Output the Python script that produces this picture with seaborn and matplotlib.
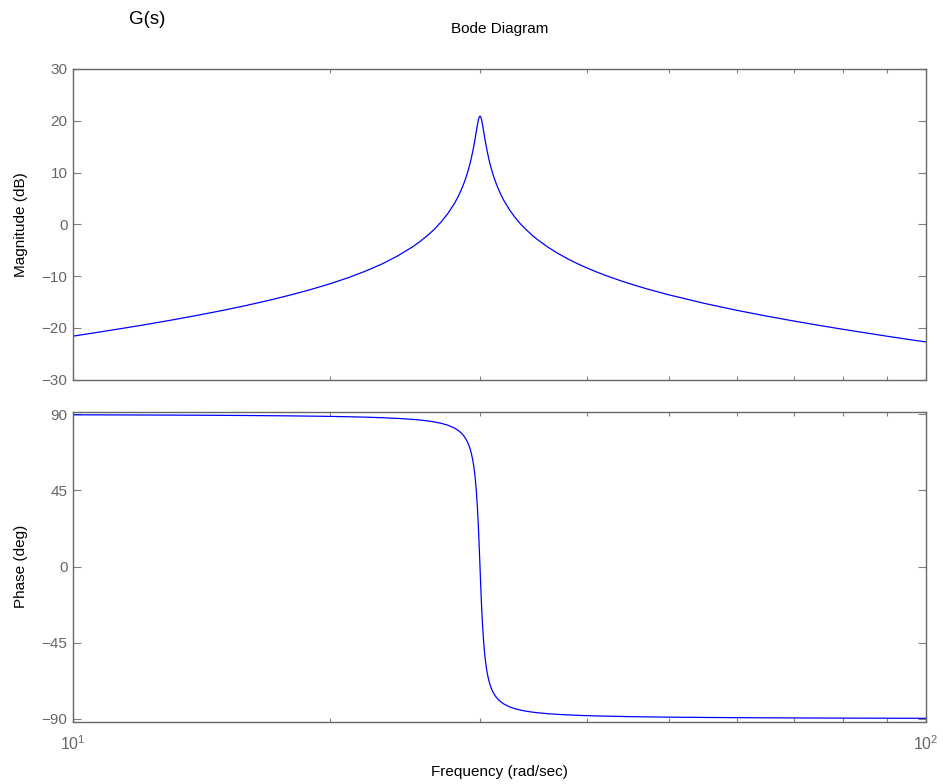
import matplotlib
matplotlib.use("Agg")
import matplotlib.pyplot as plt
import matplotlib.ticker as mticker
import seaborn as sns
import numpy as np
import pandas as pd

# Frequencies (rad/sec)
freq = [10, 11, 12, 13, 14, 15, 16, 17, 18, 19, 20, 21, 22, 23, 24, 25, 25.5,
        26, 26.5, 27, 27.5, 28, 28.25, 28.5, 28.6, 28.7, 28.8, 28.9, 29.0,
        29.1, 29.2, 29.3, 29.4, 29.5, 29.6, 29.7, 29.8, 29.85, 29.9, 29.95,
        30.0, 30.05, 30.1, 30.15, 30.2, 30.3, 30.4, 30.5, 30.6, 30.7, 30.8,
        30.9, 31.0, 31.1, 31.2, 31.3, 31.4, 31.5, 31.75, 32, 32.5, 33, 33.5,
        34, 34.5, 35, 36, 37, 38, 39, 40, 41, 42, 44, 45, 47, 50, 55, 60, 65,
        70, 75, 80, 85, 90, 95, 100]
# Magnitude (dB)
mag_db = [-21.59, -20.53, -19.52, -18.53, -17.56, -16.60, -15.63, -14.64,
          -13.63, -12.58, -11.49, -10.33, -9.06, -7.69, -6.14, -4.36, -3.35,
          -2.23, -1.02, 0.44, 2.05, 4.03, 5.20, 6.54, 7.13, 7.76, 8.44, 9.16,
          9.94, 10.79, 11.71, 12.73, 13.85, 15.08, 16.44, 17.88, 19.30, 19.94,
          20.44, 20.79, 20.90, 20.79, 20.45, 19.95, 19.32, 17.92, 16.51, 15.19,
          13.98, 12.90, 11.91, 11.02, 10.21, 9.46, 8.76, 8.12, 7.52, 6.96,
          5.69, 4.60, 2.77, 1.26, -0.01, -1.06, -2.03, -2.89, -4.35, -5.59,
          -6.64, -7.57, -8.39, -9.12, -9.80, -10.97, -11.49, -12.43, -13.63,
          -15.27, -16.60, -17.71, -18.67, -19.52, -20.28, -20.96, -21.60,
          -22.18, -22.71]
# Phase (deg)
phase_deg = [89.57, 89.51, 89.45, 89.39, 89.32, 89.24, 89.15, 89.04, 88.93,
             88.79, 88.63, 88.43, 88.18, 87.87, 87.45, 86.88, 86.49, 86.02,
             85.40, 84.59, 83.45, 81.76, 80.56, 78.97, 78.19, 77.28, 76.24,
             75.02, 73.57, 71.83, 69.70, 67.05, 63.67, 59.25, 53.31, 45.14,
             33.78, 26.63, 18.46, 9.47, 0.0, -9.45, -18.41, -26.50, -33.60,
             -44.86, -52.95, -58.83, -63.21, -66.56, -69.20, -71.31, -73.04,
             -74.48, -75.70, -76.74, -77.64, -78.42, -80.00, -81.20, -82.89,
             -84.02, -84.83, -85.44, -85.92, -86.30, -86.88, -87.29, -87.60,
             -87.84, -88.04, -88.20, -88.33, -88.54, -88.63, -88.77, -88.93,
             -89.11, -89.24, -89.33, -89.40, -89.45, -89.50, -89.54, -89.57,
             -89.60, -89.62]

mag_ticks = [-30, -20, -10, 0, 10, 20, 30]
phase_ticks = [-90, -45, 0, 45, 90]

df = pd.DataFrame({"freq": freq, "mag": mag_db, "phase": phase_deg})

sns.set_theme(style="white")
plt.rcParams["font.family"] = ["Liberation Sans", "DejaVu Sans"]
plt.rcParams["mathtext.default"] = "regular"

W, H = 943, 784
fig = plt.figure(figsize=(W / 100, H / 100), dpi=100)

def frac_box(x0, x1, y0, y1):
    return [x0 / W, 1 - y1 / H, (x1 - x0) / W, (y1 - y0) / H]

ax1 = fig.add_axes(frac_box(73, 926, 69, 379.7))
ax2 = fig.add_axes(frac_box(73, 926, 411.7, 722))

line_color = "#0000ff"
sns.lineplot(data=df, x="freq", y="mag", ax=ax1, color=line_color, lw=0.9,
             sort=False)
sns.lineplot(data=df, x="freq", y="phase", ax=ax2, color=line_color, lw=0.9,
             sort=False)

spine_c = "#666666"
label_c = "#666666"
FS = 11
for ax in (ax1, ax2):
    ax.set_xscale("log")
    ax.set_xlim(10, 100)
    ax.xaxis.set_major_locator(mticker.LogLocator(base=10, numticks=5))
    ax.xaxis.set_minor_locator(mticker.LogLocator(base=10, subs=np.arange(2, 10), numticks=20))
    ax.xaxis.set_minor_formatter(mticker.NullFormatter())
    for s in ax.spines.values():
        s.set_color(spine_c)
        s.set_linewidth(1.0)
    ax.tick_params(axis="both", which="both", direction="in", top=True,
                   bottom=True, left=True, right=True, colors="#808080",
                   labelcolor=label_c, labelsize=FS)
    ax.tick_params(axis="both", which="major", length=6, width=0.8, pad=4)
    ax.tick_params(axis="both", which="minor", length=3, width=0.8)
    ax.grid(False)

ax1.set_ylim(-30, 30)
ax1.set_yticks(mag_ticks)
ax1.tick_params(axis="x", which="both", labelbottom=False)
ax1.set_xlabel("")
ax1.set_ylabel("Magnitude (dB)", fontsize=FS, color="black")
ax1.yaxis.set_label_coords(-0.053, 0.5)

ax2.set_ylim(-91.8, 91.4)
ax2.set_yticks(phase_ticks)
ax2.tick_params(axis="x", which="major", pad=9, labelsize=11.5)
ax2.set_ylabel("Phase (deg)", fontsize=FS, color="black")
ax2.yaxis.set_label_coords(-0.053, 0.5)
ax2.set_xlabel("Frequency (rad/sec)", fontsize=FS, color="black")
ax2.xaxis.set_label_coords(0.5, -0.138)

fig.text(499.5 / W, 1 - 29.5 / H, "Bode Diagram", ha="center", va="center",
         fontsize=FS, color="black")
fig.text(147 / W, 1 - 20 / H, "G(s)", ha="center", va="center",
         fontsize=13.5, color="black")

fig.savefig("out.png", dpi=100)
